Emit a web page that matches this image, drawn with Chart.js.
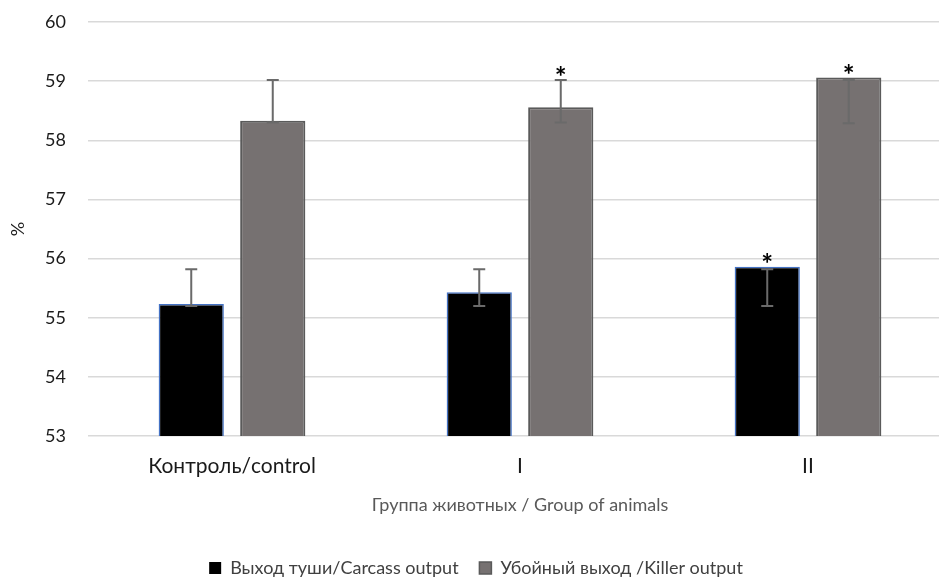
<!DOCTYPE html>
<html>
<head>
<meta charset="utf-8">
<script src="https://cdn.jsdelivr.net/npm/chart.js@4.4.0/dist/chart.umd.min.js"></script>
<style>
  html, body { margin: 0; padding: 0; background: #ffffff; overflow: hidden; }
  #wrap { width: 939px; height: 584px; overflow: hidden; position: relative; }
  canvas { display: block; }
</style>
</head>
<body>
<div id="wrap"><canvas id="c" width="953" height="584"></canvas></div>
<script>
// ---- data ----
const categories = ['Контроль/control', 'I', 'II'];
const seriesNames = ['Выход туши/Carcass output', 'Убойный выход /Killer output'];
const carcassValues = [55.23, 55.43, 55.86];
const killerValues = [58.33, 58.56, 59.06];
const carcassErrLow = [55.20, 55.20, 55.20];
const carcassErrHigh = [55.82, 55.82, 55.82];
const killerErrLow = [58.30, 58.30, 58.29];
const killerErrHigh = [59.02, 59.02, 59.02];
const carcassSignif = [false, false, true];
const killerSignif = [false, true, true];
const yTicks = [53, 54, 55, 56, 57, 58, 59, 60];
const yTitle = '%';
const xTitle = 'Группа животных / Group of animals';

const FONT = 'Lato, "Open Sans", "Noto Sans", sans-serif';

const errorBarPlugin = {
  id: 'errorBars',
  afterDatasetsDraw(chart) {
    const ctx = chart.ctx;
    const y = chart.scales.y;
    const lows = [carcassErrLow, killerErrLow];
    const highs = [carcassErrHigh, killerErrHigh];
    const sig = [carcassSignif, killerSignif];
    const vals = [carcassValues, killerValues];
    ctx.save();
    for (let d = 0; d < 2; d++) {
      const meta = chart.getDatasetMeta(d);
      meta.data.forEach((bar, i) => {
        const x = bar.x;
        const yl = y.getPixelForValue(lows[d][i]);
        const yh = y.getPixelForValue(highs[d][i]);
        ctx.strokeStyle = '#6a6a6a';
        ctx.lineWidth = 2;
        ctx.beginPath();
        ctx.moveTo(x, yl); ctx.lineTo(x, yh);
        ctx.moveTo(x - 6, yl); ctx.lineTo(x + 6, yl);
        ctx.moveTo(x - 6, yh); ctx.lineTo(x + 6, yh);
        ctx.stroke();
        if (sig[d][i]) {
          const topVal = Math.max(highs[d][i], vals[d][i]);
          const ty = y.getPixelForValue(topVal);
          ctx.fillStyle = '#000000';
          ctx.font = 'bold 28px ' + FONT;
          ctx.textAlign = 'center';
          ctx.textBaseline = 'alphabetic';
          ctx.fillText('*', x, ty + 7);
        }
      });
    }
    ctx.restore();
  }
};

new Chart(document.getElementById('c'), {
  type: 'bar',
  data: {
    labels: categories,
    datasets: [
      {
        label: seriesNames[0],
        data: carcassValues,
        backgroundColor: '#000000',
        borderColor: '#4472c4',
        borderWidth: 1.5,
        categoryPercentage: 0.566,
        barPercentage: 0.8
      },
      {
        label: seriesNames[1],
        data: killerValues,
        backgroundColor: '#767171',
        borderColor: '#5a5a5a',
        borderWidth: 2,
        categoryPercentage: 0.566,
        barPercentage: 0.8
      }
    ]
  },
  options: {
    responsive: false,
    animation: false,
    devicePixelRatio: 1,
    layout: { padding: { top: 22, right: 1, left: 0, bottom: -3 } },
    plugins: {
      tooltip: { enabled: false },
      legend: {
        position: 'bottom',
        labels: {
          font: { family: FONT, size: 18 },
          color: '#404040',
          boxWidth: 12,
          boxHeight: 12,
          padding: 7,
          generateLabels(chart) {
            const ds = chart.data.datasets;
            return ds.map((d, i) => ({
              text: i === 0 ? d.label + '   ' : d.label,
              fillStyle: d.backgroundColor,
              strokeStyle: i === 0 ? '#000000' : '#5a5a5a',
              lineWidth: i === 0 ? 0 : 1.5,
              fontColor: '#404040',
              datasetIndex: i,
              hidden: false
            }));
          }
        }
      }
    },
    scales: {
      x: {
        grid: { display: false, drawTicks: false },
        border: { display: false },
        ticks: { font: { family: FONT, size: 21 }, color: '#1a1a1a', padding: 18 },
        title: {
          display: true, text: xTitle,
          font: { family: FONT, size: 18 }, color: '#595959',
          padding: { top: 15, bottom: 36 }
        },
        afterFit(scale) { scale.height = 116; scale.paddingLeft = 0; scale.paddingRight = 0; }
      },
      y: {
        min: 53, max: 60,
        afterBuildTicks(scale) { scale.ticks = yTicks.map(v => ({ value: v })); },
        grid: { color: '#d9d9d9', lineWidth: 1.5, drawTicks: false },
        border: { display: false },
        ticks: { font: { family: FONT, size: 18 }, color: '#1a1a1a', padding: 22 },
        title: {
          display: true, text: yTitle,
          font: { family: FONT, size: 18 }, color: '#1a1a1a',
          padding: { top: 7, bottom: 0 }
        },
        afterFit(scale) { scale.width = 88; scale.paddingTop = 0; scale.paddingBottom = 0; }
      }
    }
  },
  plugins: [errorBarPlugin]
});
</script>
</body>
</html>
